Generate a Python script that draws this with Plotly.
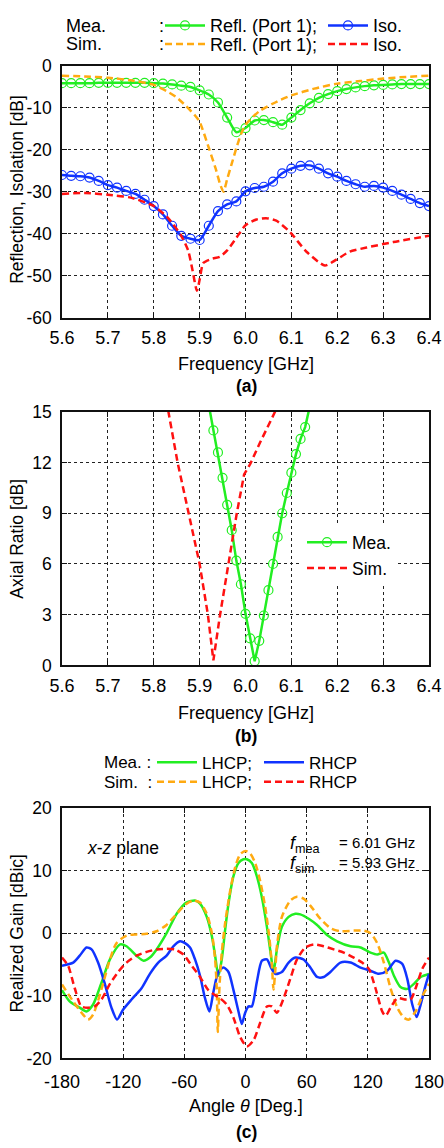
import plotly.graph_objects as go

# ---------------- DATA ----------------
# (a) Reflection / Isolation
freq_mea = [5.60, 5.62, 5.64, 5.66, 5.68, 5.70, 5.72, 5.74, 5.76, 5.78,
            5.80, 5.82, 5.84, 5.86, 5.88, 5.90, 5.92, 5.94, 5.96, 5.98,
            6.00, 6.02, 6.04, 6.06, 6.08, 6.10, 6.12, 6.14, 6.16, 6.18,
            6.20, 6.22, 6.24, 6.26, 6.28, 6.30, 6.32, 6.34, 6.36, 6.38, 6.40]
refl_mea = [-4.1, -4.1, -4.1, -4.1, -4.0, -4.0, -4.0, -4.0, -4.0, -4.0,
            -4.1, -4.2, -4.4, -4.7, -5.0, -5.8, -6.8, -8.7, -12.3, -15.8,
            -14.8, -13.0, -12.9, -13.4, -14.0, -12.3, -10.5, -8.9, -7.6, -6.7,
            -6.0, -5.5, -5.1, -4.8, -4.6, -4.5, -4.4, -4.3, -4.3, -4.3, -4.3]
iso_mea = [-26.0, -26.2, -26.3, -26.6, -27.4, -28.4, -29.0, -29.8, -30.5, -31.9,
           -33.4, -35.4, -38.1, -40.5, -41.2, -41.5, -38.1, -34.6, -33.0, -32.3,
           -29.9, -29.1, -28.8, -27.6, -25.6, -24.5, -23.8, -23.7, -24.5, -25.6,
           -26.4, -27.4, -28.2, -28.8, -28.6, -29.0, -29.8, -30.7, -31.7, -32.7, -33.4]

freq_sim_refl = [5.60, 5.65, 5.70, 5.75, 5.80, 5.83, 5.85, 5.87, 5.89, 5.90,
                 5.92, 5.935, 5.945, 5.952, 5.96, 5.97, 5.98, 5.99, 6.00, 6.03,
                 6.07, 6.10, 6.15, 6.20, 6.25, 6.30, 6.35, 6.40]
refl_sim = [-2.3, -2.5, -2.8, -3.4, -4.5, -6.1, -7.5, -9.5, -11.8, -13.3,
            -19.5, -24.5, -28.3, -30.0, -27.0, -23.3, -19.6, -16.3, -14.0, -10.8,
            -8.4, -7.0, -5.4, -4.2, -3.6, -3.0, -2.6, -2.3]

freq_sim_iso = [5.60, 5.65, 5.70, 5.75, 5.80, 5.83, 5.86, 5.875, 5.885, 5.894,
                5.90, 5.908, 5.926, 5.944, 5.96, 5.98, 6.00, 6.024, 6.045, 6.067,
                6.097, 6.133, 6.173, 6.198, 6.227, 6.264, 6.322, 6.40]
iso_sim = [-30.5, -30.3, -30.7, -31.4, -33.4, -36.1, -40.5, -44.0, -49.0, -53.6,
           -51.0, -47.0, -46.0, -45.5, -44.0, -41.0, -38.0, -36.6, -36.3, -36.9,
           -39.6, -44.3, -47.6, -46.2, -44.3, -43.3, -42.0, -40.5]

# (b) Axial ratio
freq_ar_mea = [5.92, 5.93, 5.94, 5.95, 5.96, 5.97, 5.98, 5.99, 6.00, 6.01, 6.02,
               6.03, 6.04, 6.05, 6.06, 6.07, 6.08, 6.09, 6.10, 6.11, 6.12, 6.13, 6.14]
ar_mea = [15.4, 13.9, 12.6, 11.1, 9.5, 8.0, 6.2, 4.8, 3.05, 1.6, 0.25,
          1.45, 2.95, 4.45, 6.0, 7.6, 9.0, 10.2, 11.4, 12.5, 13.4, 14.1, 15.3]
freq_ar_sim = [5.82, 5.832, 5.852, 5.876, 5.900, 5.918, 5.930, 5.944, 5.963,
               5.981, 5.997, 6.010, 6.032, 6.064, 6.075]
ar_sim = [17.0, 15.0, 12.0, 9.0, 6.0, 3.0, 0.3, 2.9, 6.0,
          9.0, 11.3, 11.9, 13.2, 15.0, 15.6]

# (c) Realized gain, x-z plane
theta_mea_l = [-180, -172.5, -162.6, -156, -149.5, -141, -133, -123, -116.7, -107,
               -100, -93.8, -87.2, -77.4, -67.5, -57.7, -49.5, -44.6, -38, -33,
               -29.8, -26.6, -23.3, -20, -16.7, -11.8, -6.9, -2, 1.3, 6.2,
               11.1, 16.1, 21, 25, 27.5, 30.8, 35.7, 42.3, 48.9, 53.8,
               62, 70.2, 80, 89.8, 103, 112.8, 122.6, 129.2, 135.7, 140.7,
               145.6, 152, 158.7, 165.2, 171.8, 180]
gain_mea_l = [-9.1, -10.9, -11.9, -12.5, -11.4, -7.8, -4.2, -1.8, -2.1, -3.6,
              -4.4, -3.9, -2.6, 0, 3.1, 4.9, 5.2, 4.7, 2.6, -0.5,
              -3.6, -6.8, -4.2, 0.5, 4.7, 9.1, 11.2, 11.8, 11.8, 11.2,
              9.1, 5.7, 1.0, -3.6, -6.2, -2.6, 1.0, 2.6, 3.1, 3.0,
              2.3, 1.3, -0.3, -1.3, -2.1, -2.3, -3.1, -3.4, -3.1, -4.7,
              -6.8, -8.6, -8.9, -8.1, -7.0, -6.5]

theta_mea_r = [-180, -169, -162.6, -156, -151, -144.6, -138, -131.5, -126, -120,
               -111.8, -102, -93.8, -85.6, -77.4, -70.8, -64.3, -59.3, -54.4, -49.5,
               -44.6, -39.7, -35.4, -31.5, -26.6, -21.6, -16.7, -11.8, -6.9, -3.6,
               -0.3, 3, 6.2, 11.1, 16.1, 21, 25, 29.2, 35.7, 42.3,
               48.9, 57, 63.6, 70.2, 76.7, 83.3, 93.1, 103, 112.8, 122.6,
               130.8, 139, 147.2, 153.8, 158.7, 163.6, 167.9, 171.8, 176.7, 180]
gain_mea_r = [-5.2, -4.7, -3.6, -2.3, -2.6, -4.7, -8.1, -11.9, -13.8, -12.2,
              -10.6, -8.8, -6.5, -4.7, -3.6, -2.1, -1.3, -1.6, -2.3, -4.2,
              -6.8, -10.4, -12.5, -9.4, -6.2, -5.5, -6.2, -9.1, -12.5, -14.5,
              -12.7, -11.7, -11.7, -7.8, -4.4, -4.2, -5.5, -6.5, -6.2, -4.7,
              -3.9, -4.2, -5.5, -7.0, -7.0, -6.2, -4.7, -4.7, -5.5, -6.0,
              -6.5, -6.0, -4.4, -4.9, -7.3, -11.4, -13.4, -11.4, -8.3, -6.5]

theta_sim_l = [-180, -169, -159.3, -154.4, -149.5, -141, -133, -126.6, -116.7, -107,
               -97, -87.2, -77.4, -67.5, -57.7, -51, -44.6, -38, -33, -29.8,
               -28.2, -27.2, -25.6, -23.3, -20, -15, -10, -5.2, 0, 4.6,
               9.5, 14.4, 19.3, 23.6, 25.9, 27.5, 29.2, 30.8, 35.7, 44,
               50.5, 57, 63.6, 73.4, 83.3, 93.1, 106.2, 116, 122.6, 129.2,
               135.7, 142.3, 148.9, 155.4, 160.3, 166.9, 173.4, 180]
gain_sim_l = [-8.2, -10.9, -13, -13.8, -13, -8.8, -4.2, -1.6, -0.4, -0.2,
              -0.1, 0.3, 1.3, 3.1, 4.7, 5.2, 4.9, 3.1, 0, -4.2,
              -8.8, -15.8, -8.8, -3.1, 1.6, 6.8, 10.6, 12.6, 13.1, 12.7,
              11.2, 8.3, 4.2, -1.0, -5.2, -9.0, -6.0, -2.1, 2.6, 5.2,
              5.8, 5.5, 4.4, 2.3, 0.8, 0.3, 0.4, 0.4, 0, -1.6,
              -4.7, -8.8, -11.9, -13.5, -13.8, -12.5, -10.1, -8.1]

theta_sim_r = [-180, -174, -167.5, -161, -154.4, -147.9, -141.3, -133, -124.9, -116.7,
               -107, -97, -87.2, -77.4, -69.2, -61, -52.8, -44.6, -36.4, -29.8,
               -24.9, -18.4, -11.8, -5.2, 1.3, 7.9, 14.4, 21, 25.9, 30.8,
               37.4, 43.9, 50.5, 58.7, 66.9, 76.7, 86.6, 96.4, 106.2, 114.4,
               121, 127.5, 134.1, 137.4, 142.3, 148.9, 157, 162, 166.9, 173.4, 180]
gain_sim_r = [-3.9, -5.2, -8.8, -11.7, -11.9, -11.7, -10.6, -8.1, -6.2, -4.7,
              -3.6, -3.0, -2.6, -2.5, -2.6, -3.4, -5.2, -7.0, -9.1, -9.9,
              -10.4, -11.4, -13.5, -16.6, -18.1, -17.1, -14.3, -11.7, -11.7, -12.7,
              -10.4, -7.3, -4.2, -2.3, -1.8, -2.1, -2.6, -3.1, -3.9, -4.7,
              -5.7, -8.8, -12.5, -13.2, -11.9, -10.4, -10.6, -10.6, -8.8, -5.7, -3.9]

# tick labels
freq_ticks = [5.6, 5.7, 5.8, 5.9, 6.0, 6.1, 6.2, 6.3, 6.4]
freq_ticktext = ["5.6", "5.7", "5.8", "5.9", "6.0", "6.1", "6.2", "6.3", "6.4"]
ya_ticks = [0, -10, -20, -30, -40, -50, -60]
ya_ticktext = ["0", "-10", "-20", "-30", "-40", "-50", "-60"]
yb_ticks = [0, 3, 6, 9, 12, 15]
yb_ticktext = ["0", "3", "6", "9", "12", "15"]
xc_ticks = [-180, -120, -60, 0, 60, 120, 180]
xc_ticktext = ["-180", "-120", "-60", "0", "60", "120", "180"]
yc_ticks = [-20, -10, 0, 10, 20]
yc_ticktext = ["-20", "-10", "0", "10", "20"]

# ---------------- STYLE ----------------
GREEN = "#22ee22"
BLUE = "#1033ff"
ORANGE = "#ffaa11"
RED = "#ff1111"
FONT = "Liberation Sans, Arial, sans-serif"
DASH = "7px,4px"

W, H = 444, 1148
ML, MR = 62, 15
PW = W - ML - MR


def fx(px):
    return (px - ML) / PW


def fy(py):
    return 1 - py / H


fig = go.Figure()

mk = dict(symbol="circle-open", size=9, line=dict(width=1.2))

# (a)
fig.add_trace(go.Scatter(x=freq_mea, y=refl_mea, mode="lines+markers", name="Refl. (Port 1);",
                         line=dict(color=GREEN, width=2.5, shape="spline", smoothing=0.6),
                         marker=dict(color=GREEN, **mk), xaxis="x", yaxis="y", legend="legend"))
fig.add_trace(go.Scatter(x=freq_mea, y=iso_mea, mode="lines+markers", name="Iso.",
                         line=dict(color=BLUE, width=2.5, shape="spline", smoothing=0.6),
                         marker=dict(color=BLUE, **mk), xaxis="x", yaxis="y", legend="legend2"))
fig.add_trace(go.Scatter(x=freq_sim_refl, y=refl_sim, mode="lines", name="Refl. (Port 1);",
                         line=dict(color=ORANGE, width=2.5, dash=DASH, shape="spline", smoothing=0.6),
                         xaxis="x", yaxis="y", legend="legend3"))
fig.add_trace(go.Scatter(x=freq_sim_iso, y=iso_sim, mode="lines", name="Iso.",
                         line=dict(color=RED, width=2.5, dash=DASH, shape="spline", smoothing=0.6),
                         xaxis="x", yaxis="y", legend="legend4"))

# (b)
fig.add_trace(go.Scatter(x=freq_ar_mea, y=ar_mea, mode="lines+markers", name="Mea.",
                         line=dict(color=GREEN, width=2.5),
                         marker=dict(color=GREEN, **mk), xaxis="x2", yaxis="y2", legend="legend5"))
fig.add_trace(go.Scatter(x=freq_ar_sim, y=ar_sim, mode="lines", name="Sim.",
                         line=dict(color=RED, width=2.5, dash=DASH),
                         xaxis="x2", yaxis="y2", legend="legend5"))

# (c)
fig.add_trace(go.Scatter(x=theta_mea_l, y=gain_mea_l, mode="lines", name="LHCP;",
                         line=dict(color=GREEN, width=2.5, shape="spline", smoothing=0.7),
                         xaxis="x3", yaxis="y3", legend="legend7"))
fig.add_trace(go.Scatter(x=theta_mea_r, y=gain_mea_r, mode="lines", name="RHCP",
                         line=dict(color=BLUE, width=2.5, shape="spline", smoothing=0.7),
                         xaxis="x3", yaxis="y3", legend="legend8"))
fig.add_trace(go.Scatter(x=theta_sim_l, y=gain_sim_l, mode="lines", name="LHCP;",
                         line=dict(color=ORANGE, width=2.5, dash=DASH, shape="spline", smoothing=0.7),
                         xaxis="x3", yaxis="y3", legend="legend9"))
fig.add_trace(go.Scatter(x=theta_sim_r, y=gain_sim_r, mode="lines", name="RHCP",
                         line=dict(color=RED, width=2.5, dash=DASH, shape="spline", smoothing=0.7),
                         xaxis="x3", yaxis="y3", legend="legend10"))

axc = dict(showline=True, linecolor="#111", linewidth=1.5, mirror="ticks",
           ticks="inside", ticklen=5, tickwidth=1.2, tickcolor="#111",
           showgrid=True, gridcolor="#222", gridwidth=1, griddash="dot",
           zeroline=False, tickmode="array", ticklabeloverflow="allow")
xfont = dict(size=18, color="black", family=FONT)
yfont = dict(size=17.5, color="black", family=FONT)


def leg(px, py, size, bg="rgba(0,0,0,0)", orient="h"):
    return dict(x=fx(px), y=fy(py), xanchor="left", yanchor="middle",
                orientation=orient, bgcolor=bg, borderwidth=0,
                font=dict(size=size, color="black", family=FONT), itemwidth=40,
                itemclick=False, itemdoubleclick=False, tracegroupgap=0)


lay = dict(
    width=W, height=H, margin=dict(l=ML, r=MR, t=0, b=0),
    paper_bgcolor="white", plot_bgcolor="white",
    font=dict(family=FONT, color="black"),
    xaxis=dict(axc, domain=[0, 1], range=[5.6, 6.4], tickvals=freq_ticks, ticktext=freq_ticktext,
               anchor="y", tickfont=xfont, ticklabelstandoff=3),
    yaxis=dict(axc, domain=[fy(313), fy(57)], range=[-60, 0], tickvals=ya_ticks, ticktext=ya_ticktext,
               anchor="x", tickfont=yfont, ticklabelstandoff=5),
    xaxis2=dict(axc, domain=[0, 1], range=[5.6, 6.4], tickvals=freq_ticks, ticktext=freq_ticktext,
                anchor="y2", tickfont=xfont, ticklabelstandoff=3),
    yaxis2=dict(axc, domain=[fy(667), fy(409)], range=[0, 15], tickvals=yb_ticks, ticktext=yb_ticktext,
                anchor="x2", tickfont=yfont, ticklabelstandoff=5),
    xaxis3=dict(axc, domain=[0, 1], range=[-180, 180], tickvals=xc_ticks, ticktext=xc_ticktext,
                anchor="y3", tickfont=xfont, ticklabelstandoff=6),
    yaxis3=dict(axc, domain=[fy(1067), fy(812)], range=[-20, 20], tickvals=yc_ticks, ticktext=yc_ticktext,
                anchor="x3", tickfont=yfont, ticklabelstandoff=5),
    legend=leg(160, 16, 18),
    legend2=leg(323, 16, 18),
    legend3=leg(160, 35, 18),
    legend4=leg(323, 35, 18),
    legend5=leg(302, 555, 17.5, "white", "v"),
    legend7=leg(152, 766, 17),
    legend8=leg(259, 766, 17),
    legend9=leg(152, 786, 17),
    legend10=leg(259, 786, 17),
    showlegend=True,
)
fig.update_layout(**lay)


def ann(text, px, py, size=16, xanchor="center", angle=0, yanchor="middle"):
    fig.add_annotation(text=text, x=fx(px), y=fy(py), xref="paper", yref="paper",
                       showarrow=False, xanchor=xanchor, yanchor=yanchor, textangle=angle,
                       font=dict(size=size, color="black", family=FONT))


# legend prefixes
ann("Mea.", 64, 16, 18, "left")
ann(":", 157, 16, 18, "left")
ann("Sim.", 64, 35, 18, "left")
ann(":", 157, 35, 18, "left")
ann("Mea. :", 102, 766, 17, "left")
ann("Sim.  :", 102, 786, 17, "left")

# axis titles
ann("Reflection, Isolation [dB]", 17, 183, 17.5, angle=-90)
ann("Frequency [GHz]", 246, 360, 18)
ann("<b>(a)</b>", 246, 383, 17.5)
ann("Axial Ratio [dB]", 17, 538, 17.5, angle=-90)
ann("Frequency [GHz]", 246, 715, 18)
ann("<b>(b)</b>", 246, 739, 17.5)
ann("Realized Gain [dBic]", 17, 940, 17.5, angle=-90)
ann("Angle <i>θ</i> [Deg.]", 246, 1115, 18)
ann("<b>(c)</b>", 246, 1142, 17.5)

# (c) inside texts
ann("<i>x</i>-<i>z</i> plane", 85, 853, 17.5, "left")
ann("<i>f</i><sub>mea</sub>", 288, 849, 18, "left")
ann("<i>f</i><sub>sim</sub>", 288, 870, 18, "left")
ann("= 6.01 GHz", 337, 847, 15, "left")
ann("= 5.93 GHz", 337, 868, 15, "left")

fig.write_html("out.html")
